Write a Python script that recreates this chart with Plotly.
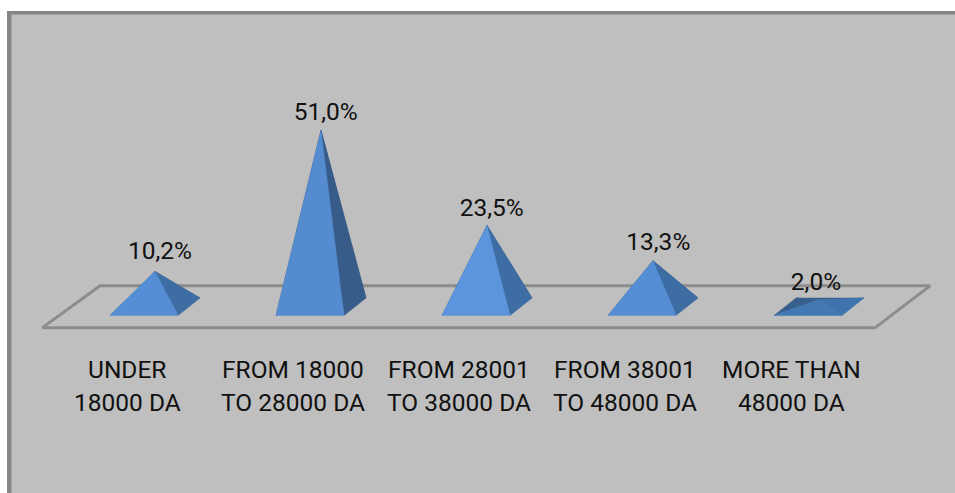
import plotly.graph_objects as go

# Data
label_line1 = ["UNDER", "FROM 18000", "FROM 28001", "FROM 38001", "MORE THAN"]
label_line2 = ["18000 DA", "TO 28000 DA", "TO 38000 DA", "TO 48000 DA", "48000 DA"]
values = [10.2, 51.0, 23.5, 13.3, 2.0]
value_labels = ["10,2%", "51,0%", "23,5%", "13,3%", "2,0%"]

# Styles, per pyramid
front_colors = ["#558ED5", "#558BCF", "#5C95DC", "#558ED5", "#4279B5"]
right_colors = ["#3E6DA3", "#375C89", "#3E6DA3", "#3E6DA3", "#3F73AD"]
back_colors = ["#375C89", "#375C89", "#375C89", "#375C89", "#38608F"]

FONT = "Roboto, Liberation Sans, Arial"
FONT_SIZE = 24.5

# Pyramid geometry, in axis units
W, H = 955, 493
PX_X = 166.0
PX_Y = 3.46
X0_PX, Y0_PX = 155.0, 306.75
half_w = 34 / PX_X
dep_x = 11 / PX_X
dep_y = 8.75 / PX_Y
label_dx = [5, 4.7, 4.7, 5.3, -3]
label_dy = [18.5, 16.5, 15.5, 16.5, 16]

fig = go.Figure()


def poly(xs, ys, color):
    fig.add_trace(go.Scatter(
        x=xs + xs[:1], y=ys + ys[:1], mode="lines", fill="toself",
        fillcolor=color, line=dict(color=color, width=0.5),
        hoverinfo="skip", showlegend=False,
    ))


# Floor
fx = [-0.68, 4.337, 4.669, -0.331]
fy = [-6.1, -6.1, 6.05, 6.05]
fig.add_trace(go.Scatter(
    x=fx + fx[:1], y=fy + fy[:1], mode="lines",
    line=dict(color="#8C8C8C", width=3), hoverinfo="skip", showlegend=False,
))

# Pyramids
for i, v in enumerate(values):
    fl = (i - dep_x - half_w, -dep_y)
    fr = (i - dep_x + half_w, -dep_y)
    br = (i + dep_x + half_w, dep_y)
    bl = (i + dep_x - half_w, dep_y)
    apex = (i, v)
    for a, b, c in [
        (bl, br, back_colors[i]),
        (fl, bl, back_colors[i]),
        (fr, br, right_colors[i]),
        (fl, fr, front_colors[i]),
    ]:
        poly([a[0], b[0], apex[0]], [a[1], b[1], apex[1]], c)

# Value labels
fig.add_trace(go.Scatter(
    x=[i + label_dx[i] / PX_X for i in range(len(values))],
    y=[v + label_dy[i] / PX_Y for i, v in enumerate(values)],
    mode="text", text=value_labels, textposition="middle center",
    textfont=dict(family=FONT, size=FONT_SIZE, color="#111111"),
    hoverinfo="skip", showlegend=False,
))

# Category labels
LABEL_DX = -28 / PX_X
for i in range(len(values)):
    for text, py in ((label_line1[i], 369.5), (label_line2[i], 402.5)):
        fig.add_annotation(
            x=i + LABEL_DX, y=(Y0_PX - py) / PX_Y, xref="x", yref="y",
            text=text, showarrow=False, xanchor="center", yanchor="middle",
            font=dict(family=FONT, size=FONT_SIZE, color="#111111"),
        )

# Frame
frame = "#858585"
shapes = [
    dict(type="rect", xref="paper", yref="paper", x0=9 / W, x1=1.01,
         y0=-0.01, y1=1 - 12.5 / H, fillcolor="#BFBFBF",
         line=dict(width=0), layer="below"),
    dict(type="rect", xref="paper", yref="paper", x0=7 / W, x1=12 / W,
         y0=-0.01, y1=1 - 11 / H, fillcolor="#A0A0A0", line=dict(width=0), layer="below"),
    dict(type="rect", xref="paper", yref="paper", x0=7 / W, x1=1.01,
         y0=1 - 15 / H, y1=1 - 11 / H, fillcolor="#A0A0A0", line=dict(width=0), layer="below"),
    dict(type="rect", xref="paper", yref="paper", x0=7 / W, x1=11 / W,
         y0=-0.01, y1=1 - 11 / H, fillcolor=frame, line=dict(width=0), layer="below"),
    dict(type="rect", xref="paper", yref="paper", x0=7 / W, x1=1.01,
         y0=1 - 14 / H, y1=1 - 11 / H, fillcolor=frame, line=dict(width=0), layer="below"),
]

fig.update_layout(
    width=W, height=H, margin=dict(l=0, r=0, t=0, b=0),
    paper_bgcolor="white", plot_bgcolor="rgba(0,0,0,0)", shapes=shapes,
    xaxis=dict(range=[-X0_PX / PX_X, (W - X0_PX) / PX_X], visible=False, fixedrange=True),
    yaxis=dict(range=[(Y0_PX - H) / PX_Y, Y0_PX / PX_Y], visible=False, fixedrange=True),
)

fig.write_html("out.html", post_script="document.body.style.margin='0';",
               config={"displayModeBar": False})
